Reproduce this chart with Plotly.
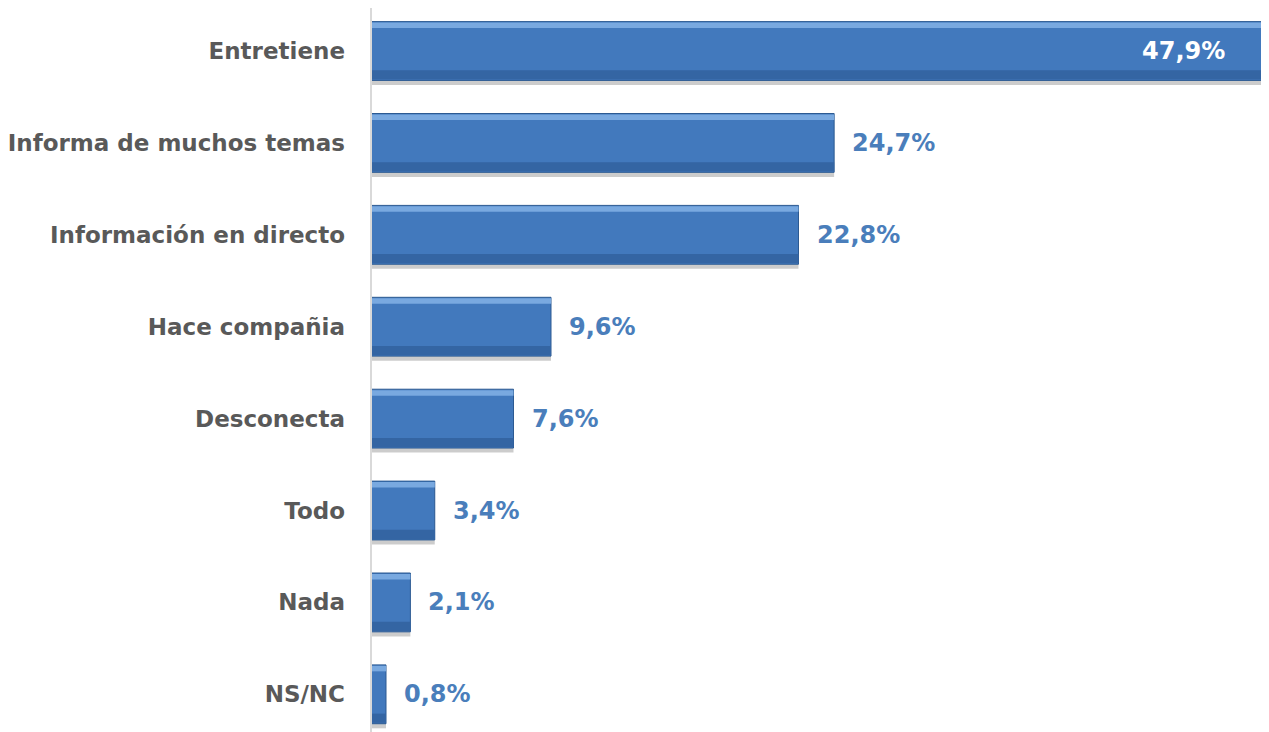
import plotly.graph_objects as go

categories = ["Entretiene", "Informa de muchos temas", "Información en directo",
              "Hace compañia", "Desconecta", "Todo", "Nada", "NS/NC"]
values = [47.9, 24.7, 22.8, 9.6, 7.6, 3.4, 2.1, 0.8]
labels = ["47,9%", "24,7%", "22,8%", "9,6%", "7,6%", "3,4%", "2,1%", "0,8%"]

BLUE = "#4279bd"
FONT = "DejaVu Sans"

fig = go.Figure()

# shadow under each bar
fig.add_trace(go.Bar(y=categories, x=values, orientation="h", width=0.67, offset=-0.30,
                     marker=dict(color="rgba(110,110,110,0.35)", line_width=0),
                     hoverinfo="skip", showlegend=False))
# main bar body
fig.add_trace(go.Bar(y=categories, x=values, orientation="h", width=0.64, offset=-0.32,
                     marker=dict(color=BLUE, line=dict(color="#2c5a92", width=1)),
                     showlegend=False))
# darker bottom band
fig.add_trace(go.Bar(y=categories, x=values, orientation="h", width=0.1, offset=0.21,
                     marker=dict(color="#3465a3", line_width=0),
                     hoverinfo="skip", showlegend=False))
# light top band
fig.add_trace(go.Bar(y=categories, x=values, orientation="h", width=0.06, offset=-0.31,
                     marker=dict(color="#79a9e0", line_width=0),
                     hoverinfo="skip", showlegend=False))

for i, (cat, v, lab) in enumerate(zip(categories, values, labels)):
    if i == 0:
        fig.add_annotation(x=v, y=cat, text=f"<b>{lab}</b>", showarrow=False,
                           xanchor="right", xshift=-42,
                           font=dict(family=FONT, size=24, color="white"))
    else:
        fig.add_annotation(x=v, y=cat, text=f"<b>{lab}</b>", showarrow=False,
                           xanchor="left", xshift=16,
                           font=dict(family=FONT, size=24, color="#4a7ebb"))

fig.update_layout(
    width=1269, height=724,
    margin=dict(l=363, r=0, t=0, b=0),
    paper_bgcolor="white", plot_bgcolor="white",
    barmode="overlay",
    font=dict(family=FONT, color="#595959"),
    xaxis=dict(range=[0, 48.32], visible=False, fixedrange=True),
    yaxis=dict(categoryorder="array", categoryarray=categories,
               range=[7.41, -0.468], showgrid=False, zeroline=False,
               showline=False, ticks="", ticklabelstandoff=25,
               tickfont=dict(family=FONT, size=23, color="#595959", weight="bold")),
    shapes=[dict(type="line", xref="paper", yref="paper", x0=0, x1=0, y0=0, y1=1,
                 line=dict(color="#d9d9d9", width=2))],
)

fig.write_html("out.html")
